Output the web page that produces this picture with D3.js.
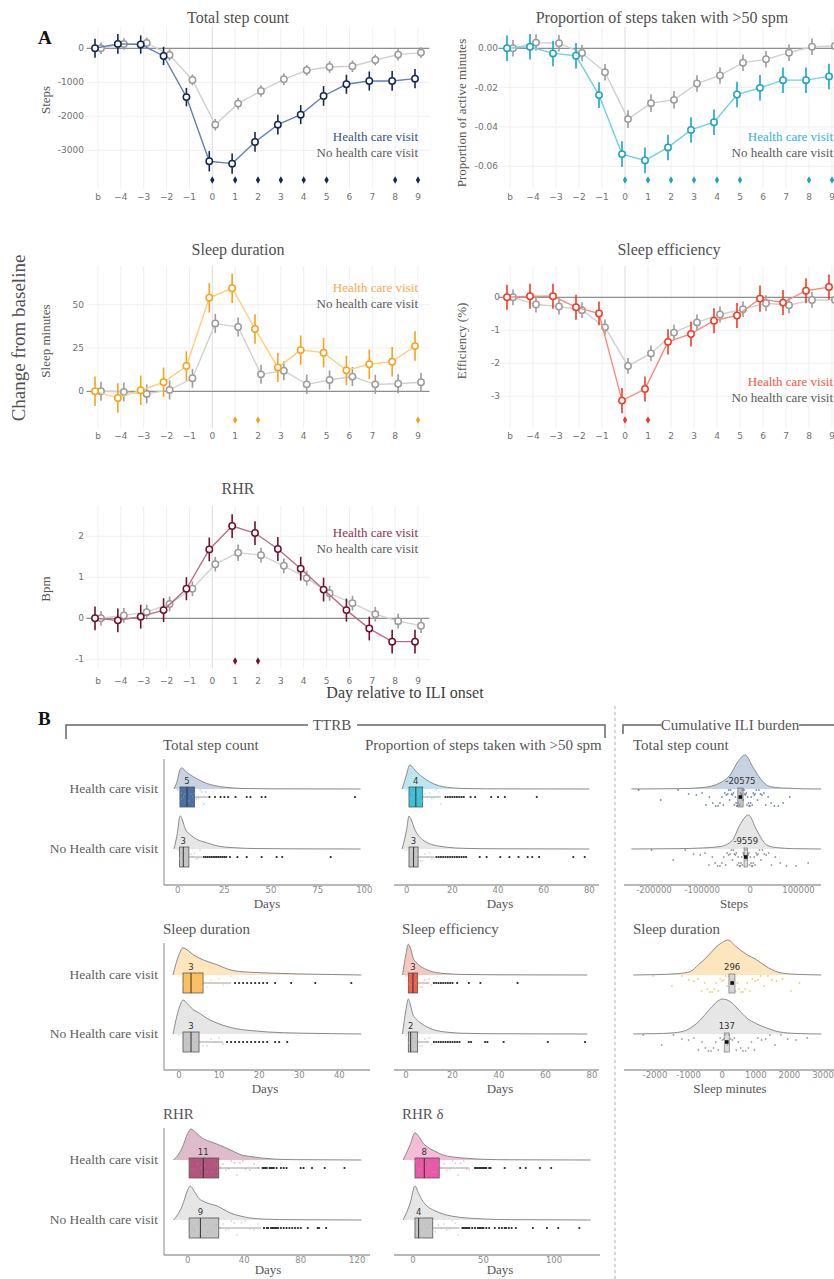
<!DOCTYPE html>
<html>
<head>
<meta charset="utf-8">
<script src="https://cdn.jsdelivr.net/npm/d3@7"></script>
<style>
  body { margin: 0; background: #fff; }
  svg { display: block; }
  .serif { font-family: "Liberation Serif", "Times New Roman", serif; }
  .sans { font-family: "DejaVu Sans", sans-serif; }
</style>
</head>
<body>
<svg width="834" height="1279"></svg>
<script>
'use strict';

// ---------- panel A data ----------
var days = ['b', '\u22124', '\u22123', '\u22122', '\u22121', '0', '1', '2', '3', '4', '5', '6', '7', '8', '9'];

// total step count
var stepHcv    = [0, 130, 110, -226, -1436, -3323, -3392, -2755, -2245, -1951, -1402, -1058, -961, -961, -892];
var stepHcvErr = [280, 290, 270, 270, 270, 300, 300, 290, 290, 280, 290, 280, 280, 290, 280];
var stepNo     = [0, 126, 157, -196, -931, -2245, -1627, -1255, -912, -647, -549, -529, -343, -186, -127];
var stepNoErr  = [170, 170, 160, 170, 160, 170, 170, 170, 170, 160, 170, 170, 160, 170, 160];
var stepSig    = ['0', '1', '2', '3', '4', '5', '8', '9'];

// proportion of steps taken with >50 spm
var propHcv    = [0, 0.0008, -0.0026, -0.0038, -0.0238, -0.0538, -0.057, -0.0504, -0.0415, -0.0376, -0.0235, -0.0201, -0.0162, -0.0162, -0.0143];
var propHcvErr = [0.0065, 0.0065, 0.0065, 0.0065, 0.0065, 0.0065, 0.0065, 0.0065, 0.0065, 0.0065, 0.0065, 0.0065, 0.0065, 0.0065, 0.0065];
var propNo     = [0, 0.0029, 0.0026, -0.0024, -0.0122, -0.036, -0.0279, -0.0262, -0.0179, -0.0138, -0.0073, -0.0056, -0.0022, 0.0008, 0.0012];
var propNoErr  = [0.0042, 0.0042, 0.0042, 0.0042, 0.0042, 0.0045, 0.0045, 0.0045, 0.0042, 0.0042, 0.0042, 0.0042, 0.0042, 0.0042, 0.0042];
var propSig    = ['0', '1', '2', '3', '4', '5', '8', '9'];

// sleep duration
var durHcv    = [0, -3.9, 0.6, 5.2, 14.6, 54, 59.5, 36, 13.8, 23.8, 22.3, 12.1, 15.6, 17.1, 26.1];
var durHcvErr = [8.5, 8.5, 8.5, 8.5, 8.5, 8.5, 8.5, 8.5, 8.5, 8.5, 8.5, 8.5, 8.5, 8.5, 8.5];
var durNo     = [0, -0.4, -1.5, 0.8, 7.5, 39.2, 37.1, 9.8, 11.9, 4, 6.5, 8.5, 4, 4.4, 5.2];
var durNoErr  = [5.5, 5.5, 5.5, 5.5, 5.5, 5.5, 5.5, 5.5, 5.5, 5.5, 5.5, 5.5, 5.5, 5.5, 5.5];
var durSig    = ['1', '2', '9'];

// sleep efficiency
var effHcv    = [0, 0.03, 0.03, -0.3, -0.49, -3.13, -2.78, -1.35, -1.11, -0.71, -0.55, -0.04, -0.16, 0.2, 0.31];
var effHcvErr = [0.38, 0.38, 0.38, 0.38, 0.36, 0.38, 0.38, 0.38, 0.38, 0.38, 0.38, 0.4, 0.38, 0.38, 0.38];
var effNo     = [0, -0.22, -0.28, -0.39, -0.91, -2.08, -1.7, -1.07, -0.76, -0.52, -0.36, -0.18, -0.24, -0.08, -0.08];
var effNoErr  = [0.24, 0.24, 0.24, 0.24, 0.24, 0.24, 0.24, 0.24, 0.24, 0.24, 0.24, 0.24, 0.24, 0.24, 0.24];
var effSig    = ['0', '1'];

// resting heart rate
var rhrHcv    = [0, -0.05, 0.04, 0.2, 0.72, 1.68, 2.25, 2.08, 1.69, 1.21, 0.7, 0.2, -0.25, -0.57, -0.57];
var rhrHcvErr = [0.29, 0.29, 0.29, 0.29, 0.28, 0.29, 0.29, 0.29, 0.29, 0.29, 0.29, 0.28, 0.29, 0.29, 0.29];
var rhrNo     = [0, 0.07, 0.15, 0.35, 0.72, 1.32, 1.6, 1.54, 1.28, 0.98, 0.61, 0.37, 0.1, -0.07, -0.18];
var rhrNoErr  = [0.18, 0.18, 0.18, 0.18, 0.18, 0.18, 0.2, 0.18, 0.18, 0.18, 0.18, 0.18, 0.18, 0.18, 0.18];
var rhrSig    = ['1', '2'];

// ---------- panel B data (TTRB: days, cumulative burden) ----------
var tsDensHcv = [[-2, 0], [0, 0.3], [1, 0.55], [2, 0.64], [3, 0.61], [5, 0.5], [7, 0.42], [10, 0.32], [15.5, 0.17], [20, 0.1], [26, 0.05], [35, 0.015], [50, 0.005], [98, 0]];
var tsDensNo  = [[-2, 0], [0, 0.55], [1, 0.97], [1.5, 1], [2.5, 0.88], [4, 0.62], [7, 0.42], [10, 0.3], [15.5, 0.19], [20, 0.11], [25, 0.06], [30, 0.04], [40, 0.015], [60, 0.005], [98, 0]];
var tsBoxHcv = [1.2, 5, 9], tsBoxNo = [1, 3, 6];
var tsOutHcv = [17, 20, 23, 25, 27, 31, 37, 39, 45, 47, 95];
var tsOutNo  = [14, 15, 16, 17, 18, 19, 20, 21, 22, 23, 24, 25, 26, 28, 32, 37, 45, 53, 56, 82];
var tsCloudHcv = [0, 1, 2, 2, 3, 4, 5, 6, 7, 8, 9, 10, 11, 12, 13, 14, 15];
var tsCloudNo  = [0, 1, 1, 2, 3, 4, 5, 6, 7, 8, 9, 10, 11, 12];

var tpDensHcv = [[-2, 0], [0, 0.45], [1, 0.7], [1.5, 0.73], [3, 0.62], [5, 0.47], [7, 0.36], [10, 0.22], [14, 0.1], [18, 0.05], [23, 0.02], [35, 0.005], [80, 0]];
var tpDensNo  = [[-2, 0], [0, 0.6], [1, 1], [2, 0.88], [3.5, 0.6], [5, 0.42], [7, 0.28], [10, 0.16], [14, 0.09], [18, 0.05], [25, 0.02], [40, 0.006], [80, 0]];
var tpBoxHcv = [1, 4, 7], tpBoxNo = [1, 3, 5];
var tpOutHcv = [17, 18, 19, 20, 21, 22, 23, 24, 25, 28, 30, 37, 40, 43, 57];
var tpOutNo  = [13, 14, 15, 16, 17, 18, 19, 20, 21, 22, 23, 24, 25, 26, 32, 35, 41, 45, 49, 53, 55, 58, 73, 78];
var tpCloudHcv = [0, 1, 2, 3, 4, 5, 6, 7, 8, 9, 10, 11, 12, 13, 14, 15];
var tpCloudNo  = [0, 1, 2, 3, 4, 5, 6, 7, 8, 9, 10, 11, 12];

var tdDensHcv = [[-1.5, 0], [0, 0.6], [1, 0.8], [2, 0.74], [3.5, 0.6], [5, 0.5], [7, 0.4], [9.5, 0.3], [12, 0.18], [14, 0.12], [18, 0.08], [22, 0.06], [30, 0.03], [38, 0.015], [45.5, 0]];
var tdDensNo  = [[-1.5, 0], [0, 0.75], [1, 1], [2, 0.9], [3.5, 0.72], [5, 0.62], [7, 0.46], [9.5, 0.32], [12, 0.22], [14, 0.16], [18, 0.1], [22, 0.06], [30, 0.025], [38, 0.01], [45.5, 0]];
var tdBoxHcv = [1, 3, 6], tdBoxNo = [1, 3, 5];
var tdOutHcv = [14, 15, 16, 17, 18, 19, 20, 21, 22, 24, 28, 34, 43];
var tdOutNo  = [12, 13, 14, 15, 16, 17, 18, 19, 20, 21, 22, 24, 25, 27];
var tdCloudHcv = [0, 1, 2, 3, 4, 5, 6, 7, 8, 9, 10, 11, 12, 13];
var tdCloudNo  = [0, 1, 2, 3, 4, 5, 6, 7, 8, 9, 10, 11];

var teDensHcv = [[-1.5, 0], [0, 0.6], [1, 0.88], [2, 0.75], [3, 0.5], [4.5, 0.35], [6, 0.26], [8, 0.18], [10, 0.12], [13, 0.07], [18, 0.035], [25, 0.015], [40, 0.005], [78, 0]];
var teDensNo  = [[-1.5, 0], [0, 0.7], [1, 1], [2, 0.8], [3, 0.55], [4.5, 0.42], [6, 0.33], [8, 0.24], [10, 0.17], [13, 0.1], [18, 0.05], [25, 0.02], [40, 0.006], [78, 0]];
var teBoxHcv = [1, 3, 5], teBoxNo = [1, 2, 5];
var teOutHcv = [12, 13, 14, 15, 16, 17, 18, 19, 20, 22, 27, 32, 48];
var teOutNo  = [12, 13, 14, 15, 16, 17, 18, 19, 20, 21, 22, 23, 27, 28, 34, 35, 42, 61, 77];
var teCloudHcv = [0, 1, 2, 3, 4, 5, 6, 7, 8, 9, 10, 11];
var teCloudNo  = [0, 1, 2, 3, 4, 5, 6, 7, 8, 9, 10, 11];

var trDensHcv = [[-10, 0], [-4, 0.35], [0, 0.78], [2.3, 0.91], [6, 0.8], [10, 0.65], [14, 0.57], [20, 0.48], [27, 0.36], [33, 0.24], [38, 0.15], [45, 0.1], [52, 0.06], [60, 0.03], [75, 0.01], [123, 0]];
var trDensNo  = [[-10, 0], [-4, 0.4], [0, 0.88], [1.6, 1], [5, 0.82], [8, 0.63], [11, 0.55], [16, 0.47], [21, 0.41], [25, 0.32], [30, 0.21], [37, 0.12], [44, 0.06], [55, 0.025], [75, 0.008], [123, 0]];
var trBoxHcv = [1, 11, 22], trBoxNo = [1, 9, 22];
var trOutHcv = [53, 54, 55, 56, 58, 59, 60, 61, 63, 66, 68, 70, 80, 82, 88, 97, 111];
var trOutNo  = [54, 56, 57, 59, 60, 61, 62, 63, 64, 66, 68, 70, 72, 74, 76, 78, 80, 85, 92, 93, 98];
var trCloudHcv = [1, 3, 5, 7, 9, 12, 14, 17, 20, 23, 25, 27, 29, 31, 33, 35, 37, 39, 41, 44, 47, 50];
var trCloudNo  = [1, 3, 5, 7, 9, 12, 14, 17, 20, 23, 25, 27, 29, 31, 33, 35, 38, 41, 44, 47, 50];

var tdlDensHcv = [[-7, 0], [-2, 0.45], [1.4, 0.8], [4, 0.7], [7, 0.5], [10, 0.39], [15, 0.27], [21, 0.15], [28, 0.09], [38, 0.05], [50, 0.02], [70, 0.006], [126, 0]];
var tdlDensNo  = [[-7, 0], [-2, 0.5], [1.4, 1], [4, 0.78], [7, 0.55], [10, 0.41], [15, 0.28], [21, 0.18], [28, 0.11], [38, 0.06], [50, 0.03], [70, 0.01], [126, 0]];
var tdlBoxHcv = [1.4, 8, 18.6], tdlBoxNo = [1.4, 4, 14];
var tdlOutHcv = [44, 45, 46, 47, 48, 49, 50, 51, 52, 54, 55, 65, 76, 80, 90, 98];
var tdlOutNo  = [35, 36, 37, 38, 39, 40, 42, 44, 46, 47, 48, 49, 50, 52, 54, 58, 61, 63, 65, 66, 68, 70, 73, 85, 95, 103, 118];
var tdlCloudHcv = [2, 4, 6, 8, 10, 12, 14, 16, 18, 20, 22, 24, 26, 28, 30, 32, 34, 36, 38, 40];
var tdlCloudNo  = [2, 4, 6, 8, 10, 12, 14, 16, 18, 20, 22, 24, 26, 28, 30, 32];

var csDensHcv = [[-247000, 0], [-150000, 0.01], [-100000, 0.04], [-63000, 0.18], [-42000, 0.41], [-26000, 0.8], [-11000, 1], [5000, 0.65], [20000, 0.32], [41000, 0.07], [65000, 0.03], [85000, 0.02], [110000, 0.005], [147000, 0]];
var csDensNo  = [[-247000, 0], [-150000, 0.01], [-100000, 0.03], [-63000, 0.07], [-37000, 0.26], [-22000, 0.7], [-4000, 1], [13000, 0.56], [34000, 0.12], [55000, 0.04], [90000, 0.01], [147000, 0]];
var csBoxHcv = [-26000, -20575, -15000], csBoxNo = [-13000, -9559, -6000];
var csCloudHcv = [-232000, -186000, -150000, -128000, -112000, -100000, -92000, -85000, -78000, -72000, -67000, -63000, -59000, -56000, -53000, -50000, -47000, -45000, -43000, -41000,
  -39000, -37000, -35000, -33000, -31000, -29500, -28000, -26500, -25000, -23500, -22000, -20500, -19000, -17500, -16000, -14500, -13000, -11500, -10000, -8500,
  -7000, -5500, -4000, -2500, -1000, 500, 2000, 4000, 6000, 8000, 10000, 12500, 15000, 18000, 21000, 24000, 28000, 32000, 37000, 43000, 50000, 58000, 68000, 82000];
var csCloudNo  = [-205000, -160000, -135000, -118000, -104000, -94000, -86000, -79000, -73000, -68000, -63000, -59000, -55000, -51000, -48000, -45000, -42000, -39500, -37000, -35000,
  -33000, -31000, -29000, -27000, -25500, -24000, -22500, -21000, -19500, -18000, -16500, -15000, -13500, -12000, -10500, -9000, -7500, -6000, -4500, -3000,
  -1500, 0, 1500, 3000, 4500, 6000, 8000, 10000, 12000, 14000, 16500, 19000, 22000, 25000, 29000, 33000, 38000, 44000, 52000, 62000, 75000, 95000, 120000];

var cdDensHcv = [[-2650, 0], [-2000, 0.01], [-1300, 0.04], [-950, 0.1], [-700, 0.3], [-450, 0.52], [-200, 0.78], [0, 0.93], [180, 1], [400, 0.82], [740, 0.58], [1000, 0.45], [1300, 0.25], [1630, 0.09], [2000, 0.03], [2500, 0.01], [2950, 0]];
var cdDensNo  = [[-2650, 0], [-2000, 0.01], [-1500, 0.03], [-1150, 0.08], [-900, 0.2], [-650, 0.4], [-400, 0.68], [-200, 0.88], [0, 1], [250, 0.92], [500, 0.68], [740, 0.45], [1000, 0.3], [1330, 0.17], [1700, 0.06], [2200, 0.015], [2950, 0]];
var cdBoxHcv = [200, 296, 380], cdBoxNo = [60, 137, 210];
var cdCloudHcv = [-2050, -1500, -1200, -1000, -850, -720, -610, -520, -440, -370, -300, -240, -180, -120, -60, 0, 50, 100, 150, 200, 250, 300, 350, 400, 450, 500,
  560, 620, 680, 750, 820, 900, 980, 1060, 1150, 1250, 1360, 1480, 1620, 1800, 2050, 2300];
var cdCloudNo  = [-2350, -1800, -1450, -1200, -1000, -840, -710, -600, -500, -410, -330, -260, -190, -120, -60, 0, 50, 100, 150, 200, 250, 300, 360, 420, 480, 550,
  620, 700, 780, 870, 960, 1060, 1170, 1290, 1420, 1570, 1750, 1950, 2200, 2530];

var svg = d3.select('svg');

// ---------- panel A: line + error bar plots ----------
function linePanel(o) {
  var g = svg.append('g');
  var x = d3.scalePoint().domain(days).range(o.xr);
  var y = d3.scaleLinear().domain(o.yd).range(o.yr);
  var half = x.step() / 2;
  var left = o.xr[0] - half, right = o.xr[1] + half;

  // grid
  g.selectAll(null).data(days).enter().append('line')
    .attr('x1', function(d) { return x(d); })
    .attr('x2', function(d) { return x(d); })
    .attr('y1', o.top).attr('y2', o.bottom)
    .attr('stroke', function(d) { return d === '0' ? '#dadada' : '#efefef'; });
  g.selectAll(null).data(o.ticks).enter().append('line')
    .attr('x1', left).attr('x2', right)
    .attr('y1', function(d) { return y(d); })
    .attr('y2', function(d) { return y(d); })
    .attr('stroke', '#efefef');
  g.append('line')
    .attr('x1', left).attr('x2', right)
    .attr('y1', y(0)).attr('y2', y(0))
    .attr('stroke', '#8f8f8f').attr('stroke-width', 1.3);

  // tick labels
  g.selectAll(null).data(o.ticks).enter().append('text')
    .attr('class', 'sans')
    .attr('x', o.tickX).attr('y', function(d) { return y(d) + 3; })
    .attr('text-anchor', 'end').attr('font-size', 9).attr('fill', '#707070')
    .text(o.fmt);
  g.selectAll(null).data(days).enter().append('text')
    .attr('class', 'sans')
    .attr('x', function(d) { return x(d); }).attr('y', o.tickY + 3)
    .attr('text-anchor', 'middle').attr('font-size', 9).attr('fill', '#707070')
    .text(function(d) { return d; });

  // no visit in grey first, then visit on top
  var series = [
    {v: o.no, e: o.noErr, pt: '#9c9c9c', ln: '#d0d0d0', off: 3},
    {v: o.hcv, e: o.hcvErr, pt: o.pt, ln: o.ln, off: -3}
  ];
  series.forEach(function(s) {
    var pts = days.map(function(d, i) { return {day: d, v: s.v[i], e: s.e[i]}; });
    g.append('path').datum(pts)
      .attr('d', d3.line()
        .x(function(d) { return x(d.day) + s.off; })
        .y(function(d) { return y(d.v); }))
      .attr('fill', 'none').attr('stroke', s.ln).attr('stroke-width', 1.4);
    g.selectAll(null).data(pts).enter().append('line')
      .attr('x1', function(d) { return x(d.day) + s.off; })
      .attr('x2', function(d) { return x(d.day) + s.off; })
      .attr('y1', function(d) { return y(d.v - d.e); })
      .attr('y2', function(d) { return y(d.v + d.e); })
      .attr('stroke', s.pt).attr('stroke-width', 1.6);
    g.selectAll(null).data(pts).enter().append('circle')
      .attr('cx', function(d) { return x(d.day) + s.off; })
      .attr('cy', function(d) { return y(d.v); })
      .attr('r', 3.2)
      .attr('fill', '#fff').attr('stroke', s.pt).attr('stroke-width', 1.5);
  });

  // significant days
  g.selectAll(null).data(o.sig).enter().append('path')
    .attr('transform', function(d) { return 'translate(' + x(d) + ',' + o.sigY + ')'; })
    .attr('d', d3.symbol().type(d3.symbolDiamond).size(16))
    .attr('fill', o.pt);

  // texts
  g.append('text').attr('class', 'serif')
    .attr('x', o.titleX).attr('y', o.titleY)
    .attr('text-anchor', 'middle').attr('font-size', 16).attr('fill', '#505050')
    .text(o.title);
  g.append('text').attr('class', 'serif')
    .attr('transform', 'translate(' + o.labX + ',' + o.labY + ') rotate(-90)')
    .attr('text-anchor', 'middle').attr('font-size', 13).attr('fill', '#555')
    .text(o.yLabel);
  g.append('text').attr('class', 'serif')
    .attr('x', o.legX).attr('y', o.legY)
    .attr('text-anchor', 'end').attr('font-size', 13).attr('fill', o.leg)
    .text('Health care visit');
  g.append('text').attr('class', 'serif')
    .attr('x', o.legX).attr('y', o.legY + 16)
    .attr('text-anchor', 'end').attr('font-size', 13).attr('fill', '#5a5a5a')
    .text('No health care visit');
}

function num(d) { return String(d); }

linePanel({title: 'Total step count', titleX: 238, titleY: 23, yLabel: 'Steps', labX: 50, labY: 100,
  xr: [98, 418], yd: [0, -3000], yr: [48.3, 150.3], top: 27, bottom: 189,
  ticks: [0, -1000, -2000, -3000], fmt: num, tickX: 84, tickY: 197, sigY: 180,
  hcv: stepHcv, hcvErr: stepHcvErr, no: stepNo, noErr: stepNoErr, sig: stepSig,
  pt: '#14284f', ln: '#5f82b5', leg: '#34508a', legX: 418, legY: 141});

linePanel({title: 'Proportion of steps taken with >50 spm', titleX: 662, titleY: 23, yLabel: 'Proportion of active minutes', labX: 466, labY: 113,
  xr: [510, 832], yd: [0, -0.06], yr: [48.3, 166.3], top: 27, bottom: 189,
  ticks: [0, -0.02, -0.04, -0.06], fmt: function(d) { return d.toFixed(2); }, tickX: 498, tickY: 197, sigY: 180,
  hcv: propHcv, hcvErr: propHcvErr, no: propNo, noErr: propNoErr, sig: propSig,
  pt: '#19a4c3', ln: '#72d0e0', leg: '#2cb5d0', legX: 833, legY: 141});

linePanel({title: 'Sleep duration', titleX: 238, titleY: 255, yLabel: 'Sleep minutes', labX: 50, labY: 341,
  xr: [98, 418], yd: [0, 50], yr: [391.3, 304.7], top: 266, bottom: 428,
  ticks: [0, 25, 50], fmt: num, tickX: 84, tickY: 436, sigY: 420,
  hcv: durHcv, hcvErr: durHcvErr, no: durNo, noErr: durNoErr, sig: durSig,
  pt: '#f5a31a', ln: '#f9cf80', leg: '#f8a94a', legX: 418, legY: 292});

linePanel({title: 'Sleep efficiency', titleX: 669, titleY: 255, yLabel: 'Efficiency (%)', labX: 466, labY: 341,
  xr: [510, 832], yd: [0, -3], yr: [297.3, 396.3], top: 266, bottom: 428,
  ticks: [0, -1, -2, -3], fmt: num, tickX: 500, tickY: 436, sigY: 420,
  hcv: effHcv, hcvErr: effHcvErr, no: effNo, noErr: effNoErr, sig: effSig,
  pt: '#ee3d24', ln: '#f48c7e', leg: '#f4573f', legX: 833, legY: 386});

linePanel({title: 'RHR', titleX: 238, titleY: 494, yLabel: 'Bpm', labX: 50, labY: 589,
  xr: [98, 418], yd: [0, 2], yr: [618.3, 536.3], top: 506, bottom: 668,
  ticks: [-1, 0, 1, 2], fmt: num, tickX: 84, tickY: 681, sigY: 661,
  hcv: rhrHcv, hcvErr: rhrHcvErr, no: rhrNo, noErr: rhrNoErr, sig: rhrSig,
  pt: '#6e1232', ln: '#b56e88', leg: '#8c3356', legX: 418, legY: 537});

svg.append('text').attr('class', 'serif')
  .attr('x', 38).attr('y', 44).attr('font-size', 19).attr('font-weight', 'bold').attr('fill', '#111')
  .text('A');
svg.append('text').attr('class', 'serif')
  .attr('transform', 'translate(25,338) rotate(-90)')
  .attr('text-anchor', 'middle').attr('font-size', 19).attr('fill', '#505050')
  .text('Change from baseline');
svg.append('text').attr('class', 'serif')
  .attr('x', 405).attr('y', 698).attr('text-anchor', 'middle').attr('font-size', 16).attr('fill', '#404040')
  .text('Day relative to ILI onset');

// ---------- panel B: raincloud plots ----------
var grey = {dens: '#e6e6e6', box: '#c6c6c6', cloud: '#b0b0b0'};

function rainPanel(o) {
  var g = svg.append('g');
  var x = d3.scaleLinear().domain(o.xd).range(o.xr);

  g.append('text').attr('class', 'serif')
    .attr('x', o.titleX).attr('y', o.titleY).attr('font-size', 15).attr('fill', '#555')
    .text(o.title);
  g.append('line')
    .attr('x1', o.ax[0]).attr('x2', o.ax[1]).attr('y1', o.axisY).attr('y2', o.axisY)
    .attr('stroke', '#a0a0a0').attr('stroke-width', 1.5);
  if (o.yAxis) {
    g.append('line')
      .attr('x1', o.ax[0]).attr('x2', o.ax[0]).attr('y1', o.yTop).attr('y2', o.axisY)
      .attr('stroke', '#8a8a8a').attr('stroke-width', 1);
  }
  g.selectAll(null).data(o.ticks).enter().append('text')
    .attr('class', 'sans')
    .attr('x', function(d) { return x(d); }).attr('y', o.axisY + 8)
    .attr('text-anchor', 'middle').attr('font-size', 8.5).attr('fill', '#8a8a8a')
    .text(num);
  g.append('text').attr('class', 'serif')
    .attr('x', o.xLabX).attr('y', o.axisY + (o.xLabDy || 23))
    .attr('text-anchor', 'middle').attr('font-size', 13).attr('fill', '#555')
    .text(o.xLabel);

  o.rows.forEach(function(r) {
    var area = d3.area().curve(d3.curveMonotoneX)
      .x(function(d) { return x(d[0]); })
      .y0(r.base)
      .y1(function(d) { return r.base - d[1] * o.peak; });
    var top = d3.line().curve(d3.curveMonotoneX)
      .x(function(d) { return x(d[0]); })
      .y(function(d) { return r.base - d[1] * o.peak; });
    g.append('path').datum(r.dens).attr('d', area).attr('fill', r.fill);
    g.append('path').datum(r.dens).attr('d', top)
      .attr('fill', 'none').attr('stroke', '#8a8a8a').attr('stroke-width', 1);

    var mid = r.base + 8;
    if (o.cum) {
      // jittered cloud of individual burdens
      g.selectAll(null).data(r.cloud).enter().append('circle')
        .attr('cx', function(d) { return x(d); })
        .attr('cy', function(d, i) { return r.base + 1 + (i * i * 7 + i * 3) % 17; })
        .attr('r', 0.9).attr('fill', r.dot).attr('fill-opacity', 0.6);
      g.append('rect')
        .attr('x', x(r.box[0])).attr('y', r.base - 1)
        .attr('width', x(r.box[2]) - x(r.box[0])).attr('height', 19)
        .attr('fill', r.boxFill).attr('fill-opacity', 0.6)
        .attr('stroke', '#777').attr('stroke-width', 0.7);
      g.append('rect')
        .attr('x', x(r.box[1]) - 1.8).attr('y', mid - 1.8)
        .attr('width', 3.6).attr('height', 3.6).attr('fill', '#111');
    } else {
      g.append('line')
        .attr('x1', x(r.box[2])).attr('x2', x(r.whisk))
        .attr('y1', mid).attr('y2', mid)
        .attr('stroke', '#777').attr('stroke-width', 0.7);
      g.append('rect')
        .attr('x', x(r.box[0])).attr('y', r.base - 2)
        .attr('width', x(r.box[2]) - x(r.box[0])).attr('height', 20)
        .attr('fill', r.boxFill).attr('stroke', '#555').attr('stroke-width', 0.8);
      g.selectAll(null).data(r.cloud).enter().append('circle')
        .attr('cx', function(d) { return x(d); })
        .attr('cy', function(d, i) { return r.base + 1 + (i * i * 5 + i * 3) % 17; })
        .attr('r', 0.8).attr('fill', r.dot).attr('fill-opacity', 0.7);
      g.append('line')
        .attr('x1', x(r.box[1])).attr('x2', x(r.box[1]))
        .attr('y1', r.base - 2).attr('y2', r.base + 18)
        .attr('stroke', '#333').attr('stroke-width', 1);
      g.selectAll(null).data(r.out).enter().append('circle')
        .attr('cx', function(d) { return x(d); })
        .attr('cy', mid)
        .attr('r', 1.1).attr('fill', '#222');
    }
    g.append('text').attr('class', 'sans')
      .attr('x', x(r.box[1])).attr('y', r.base - 5)
      .attr('text-anchor', 'middle').attr('font-size', 8.5).attr('fill', '#333')
      .text(r.label);
  });

  if (o.rowLabels) {
    o.rows.forEach(function(r, i) {
      g.append('text').attr('class', 'serif')
        .attr('x', 158).attr('y', r.base + 4)
        .attr('text-anchor', 'end').attr('font-size', 13.5).attr('fill', '#606060')
        .text(i === 0 ? 'Health care visit' : 'No Health care visit');
    });
  }
}

function rows(b1, b2, hcv, no, col) {
  return [
    {base: b1, dens: hcv.dens, box: hcv.box, whisk: hcv.whisk, out: hcv.out, cloud: hcv.cloud,
     fill: col.dens, boxFill: col.box, dot: col.cloud, label: hcv.label},
    {base: b2, dens: no.dens, box: no.box, whisk: no.whisk, out: no.out, cloud: no.cloud,
     fill: grey.dens, boxFill: grey.box, dot: col.noDot || grey.cloud, label: no.label}
  ];
}

// row 1
rainPanel({title: 'Total step count', titleX: 163, titleY: 750, xd: [0, 100], xr: [177.7, 364.3],
  ax: [164, 370], axisY: 885, yAxis: true, yTop: 759, ticks: [0, 25, 50, 75, 100], xLabel: 'Days', xLabX: 267,
  peak: 33, rowLabels: true,
  rows: rows(789, 849,
    {dens: tsDensHcv, box: tsBoxHcv, whisk: 16, out: tsOutHcv, cloud: tsCloudHcv, label: '5'},
    {dens: tsDensNo, box: tsBoxNo, whisk: 13, out: tsOutNo, cloud: tsCloudNo, label: '3'},
    {dens: '#c7d3e3', box: '#4b70a5', cloud: '#7f9cc8'})});

rainPanel({title: 'Proportion of steps taken with >50 spm', titleX: 365, titleY: 750, xd: [0, 80], xr: [406.7, 589.3],
  ax: [394, 599], axisY: 885, ticks: [0, 20, 40, 60, 80], xLabel: 'Days', xLabX: 500,
  peak: 33,
  rows: rows(789, 849,
    {dens: tpDensHcv, box: tpBoxHcv, whisk: 15, out: tpOutHcv, cloud: tpCloudHcv, label: '4'},
    {dens: tpDensNo, box: tpBoxNo, whisk: 12, out: tpOutNo, cloud: tpCloudNo, label: '3'},
    {dens: '#bde7ef', box: '#3ec1d8', cloud: '#6fd2e3'})});

rainPanel({title: 'Total step count', titleX: 633, titleY: 750, xd: [-200000, 100000], xr: [654, 798.5],
  ax: [624, 821], axisY: 885, ticks: [-200000, -100000, 0, 100000], xLabel: 'Steps', xLabX: 734,
  peak: 34, cum: true,
  rows: rows(789, 849,
    {dens: csDensHcv, box: csBoxHcv, cloud: csCloudHcv, label: '-20575'},
    {dens: csDensNo, box: csBoxNo, cloud: csCloudNo, label: '-9559'},
    {dens: '#c7d3e3', box: '#9a9a9a', cloud: '#22427b', noDot: '#555'})});

// row 2
rainPanel({title: 'Sleep duration', titleX: 163, titleY: 934, xd: [0, 40], xr: [179, 339.3],
  ax: [164, 370], axisY: 1070, yAxis: true, yTop: 943, ticks: [0, 10, 20, 30, 40], xLabel: 'Days', xLabX: 265,
  peak: 34, rowLabels: true,
  rows: rows(975, 1034,
    {dens: tdDensHcv, box: tdBoxHcv, whisk: 13, out: tdOutHcv, cloud: tdCloudHcv, label: '3'},
    {dens: tdDensNo, box: tdBoxNo, whisk: 11, out: tdOutNo, cloud: tdCloudNo, label: '3'},
    {dens: '#fde5bd', box: '#fcc15e', cloud: '#fbc66e'})});

rainPanel({title: 'Sleep efficiency', titleX: 402, titleY: 934, xd: [0, 80], xr: [406, 592],
  ax: [394, 599], axisY: 1070, ticks: [0, 20, 40, 60, 80], xLabel: 'Days', xLabX: 500,
  peak: 35,
  rows: rows(975, 1034,
    {dens: teDensHcv, box: teBoxHcv, whisk: 10, out: teOutHcv, cloud: teCloudHcv, label: '3'},
    {dens: teDensNo, box: teBoxNo, whisk: 10, out: teOutNo, cloud: teCloudNo, label: '2'},
    {dens: '#f6c7c0', box: '#f2604d', cloud: '#f5897a'})});

rainPanel({title: 'Sleep duration', titleX: 633, titleY: 934, xd: [-2000, 3000], xr: [655, 823],
  ax: [624, 834], axisY: 1070, ticks: [-2000, -1000, 0, 1000, 2000, 3000], xLabel: 'Sleep minutes', xLabX: 730,
  peak: 35, cum: true,
  rows: rows(975, 1034,
    {dens: cdDensHcv, box: cdBoxHcv, cloud: cdCloudHcv, label: '296'},
    {dens: cdDensNo, box: cdBoxNo, cloud: cdCloudNo, label: '137'},
    {dens: '#fde5bd', box: '#bbbbbb', cloud: '#f5a623', noDot: '#666'})});

// row 3
rainPanel({title: 'RHR', titleX: 163, titleY: 1119, xd: [0, 120], xr: [187.7, 357.2],
  ax: [164, 370], axisY: 1255, yAxis: true, yTop: 1128, ticks: [0, 40, 80, 120], xLabel: 'Days', xLabX: 268, xLabDy: 19,
  peak: 34, rowLabels: true,
  rows: rows(1160, 1220,
    {dens: trDensHcv, box: trBoxHcv, whisk: 51, out: trOutHcv, cloud: trCloudHcv, label: '11'},
    {dens: trDensNo, box: trBoxNo, whisk: 52, out: trOutNo, cloud: trCloudNo, label: '9'},
    {dens: '#dfbccb', box: '#b0567c', cloud: '#c27b97'})});

rainPanel({title: 'RHR \u03b4', titleX: 402, titleY: 1119, xd: [0, 100], xr: [413, 554],
  ax: [394, 600], axisY: 1255, ticks: [0, 50, 100], xLabel: 'Days', xLabX: 500, xLabDy: 19,
  peak: 34,
  rows: rows(1160, 1220,
    {dens: tdlDensHcv, box: tdlBoxHcv, whisk: 40, out: tdlOutHcv, cloud: tdlCloudHcv, label: '8'},
    {dens: tdlDensNo, box: tdlBoxNo, whisk: 33, out: tdlOutNo, cloud: tdlCloudNo, label: '4'},
    {dens: '#f5bcd8', box: '#ea58a6', cloud: '#ef82bd'})});

// brackets, separators, panel letter
svg.append('text').attr('class', 'serif')
  .attr('x', 38).attr('y', 725).attr('font-size', 19).attr('font-weight', 'bold').attr('fill', '#111')
  .text('B');
svg.append('path')
  .attr('d', 'M66,739V725H308M357,725H605V738')
  .attr('fill', 'none').attr('stroke', '#666').attr('stroke-width', 1.5);
svg.append('text').attr('class', 'serif')
  .attr('x', 332).attr('y', 730).attr('text-anchor', 'middle').attr('font-size', 15).attr('fill', '#555')
  .text('TTRB');
svg.append('path')
  .attr('d', 'M623,734V725H661M799,725H834')
  .attr('fill', 'none').attr('stroke', '#666').attr('stroke-width', 1.5);
svg.append('text').attr('class', 'serif')
  .attr('x', 730).attr('y', 730).attr('text-anchor', 'middle').attr('font-size', 15).attr('fill', '#555')
  .text('Cumulative ILI burden');
svg.append('line')
  .attr('x1', 615).attr('x2', 615).attr('y1', 706).attr('y2', 1279)
  .attr('stroke', '#aaa').attr('stroke-width', 1).attr('stroke-dasharray', '3,3');
</script>
</body>
</html>
